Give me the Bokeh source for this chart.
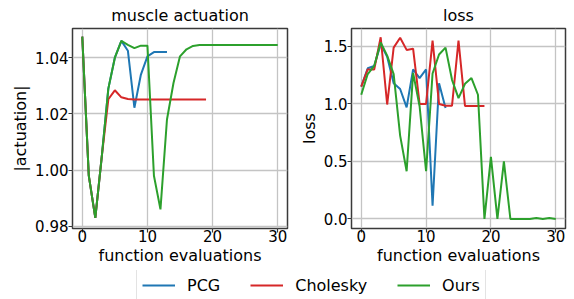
from bokeh.plotting import figure
from bokeh.layouts import column, row
from bokeh.models import FixedTicker, PrintfTickFormatter, Range1d, Legend, LegendItem
from bokeh.embed import file_html
from bokeh.resources import INLINE

# ---- data ----
series_names = ["PCG", "Cholesky", "Ours"]
series_colors = ["#1f77b4", "#d62728", "#2ca02c"]

act_pcg = [1.0475, 0.998, 0.983, 1.005, 1.029, 1.040, 1.046, 1.0425, 1.0222, 1.034,
           1.0405, 1.042, 1.042, 1.042]
act_chol = [1.0475, 0.998, 0.983, 1.005, 1.0252, 1.0284, 1.0259, 1.0253, 1.0251, 1.0251,
            1.0251, 1.0251, 1.0251, 1.0251, 1.0251, 1.0251, 1.0251, 1.0251, 1.0251, 1.0251]
act_ours = [1.0475, 0.998, 0.983, 1.005, 1.029, 1.040, 1.046, 1.0446, 1.0434, 1.0443,
            1.0443, 0.998, 0.986, 1.018, 1.031, 1.0405, 1.043, 1.0442, 1.0445, 1.0445,
            1.0445, 1.0445, 1.0445, 1.0445, 1.0445, 1.0445, 1.0445, 1.0445, 1.0445, 1.0445,
            1.0445]

loss_pcg = [1.15, 1.31, 1.33, 1.52, 1.41, 1.18, 1.13, 0.97, 1.30, 1.225,
            1.30, 0.115, 1.18, 0.965]
loss_chol = [1.15, 1.30, 1.30, 1.58, 0.995, 1.49, 1.575, 1.47, 1.48, 1.00,
             1.00, 1.55, 1.00, 0.985, 0.985, 1.55, 0.983, 0.983, 0.983, 0.983]
loss_ours = [1.08, 1.26, 1.33, 1.534, 1.42, 1.26, 0.725, 0.415, 1.27, 0.98,
             0.415, 1.265, 1.43, 1.49, 1.21, 1.05, 1.175, 1.225, 1.08, 0.0,
             0.54, 0.0, 0.50, 0.0, 0.0, 0.0, 0.0, 0.008, 0.0, 0.008, 0.0]

x_ticks = [0, 10, 20, 30]
act_ticks = [0.98, 1.00, 1.02, 1.04]
loss_ticks = [0.0, 0.5, 1.0, 1.5]

# invisible proxy line for legend glyphs (outside the legend strip's ranges)
proxy_x = [-5, -4]
proxy_y = [-5, -5]

FONT = "DejaVu Sans"
FS = "16px"
TFS = "15px"


def make_fig(width, left, right, title, ylabel, yr, yticks, yfmt):
    p = figure(width=width, height=270, output_backend="svg", toolbar_location=None,
               x_range=Range1d(-1.5, 31.5), y_range=Range1d(*yr),
               min_border_left=left, min_border_right=right,
               min_border_top=28, min_border_bottom=42)
    p.title.text = title
    p.title.align = "center"
    p.title.text_font = FONT
    p.title.text_font_size = FS
    p.title.text_font_style = "normal"
    p.title.text_color = "black"
    p.title.standoff = 7
    p.title.offset = 0
    p.outline_line_color = "#3a3a3a"
    p.outline_line_width = 1.5
    for ax in (p.xaxis[0], p.yaxis[0]):
        ax.axis_line_color = None
        ax.major_tick_in = 0
        ax.major_tick_out = 4
        ax.major_tick_line_color = "#3a3a3a"
        ax.major_tick_line_width = 1.2
        ax.minor_tick_line_color = None
        ax.major_label_text_font = FONT
        ax.major_label_text_font_size = TFS
        ax.major_label_text_color = "black"
        ax.axis_label_text_font = FONT
        ax.axis_label_text_font_size = FS
        ax.axis_label_text_font_style = "normal"
        ax.axis_label_text_color = "black"
    p.xaxis.major_label_standoff = -3
    p.xaxis.axis_label_standoff = 1
    p.yaxis.major_label_standoff = 0
    p.yaxis.axis_label_standoff = 2
    p.xaxis.ticker = FixedTicker(ticks=x_ticks)
    p.xaxis.formatter = PrintfTickFormatter(format="%d")
    p.xaxis.axis_label = "function evaluations"
    p.yaxis.ticker = FixedTicker(ticks=yticks)
    p.yaxis.formatter = PrintfTickFormatter(format=yfmt)
    p.yaxis.axis_label = ylabel
    p.grid.grid_line_color = "#c4c4c4"
    p.grid.grid_line_width = 1.3
    return p


p1 = make_fig(290, 72, 3, "muscle actuation", "|actuation|", (0.9792, 1.0504), act_ticks, "%.2f")
p2 = make_fig(284, 61, 9, "loss", "loss", (-0.083, 1.656), loss_ticks, "%.1f")

for p, data in ((p1, [act_pcg, act_chol, act_ours]), (p2, [loss_pcg, loss_chol, loss_ours])):
    for vals, col in zip(data, series_colors):
        p.line(x=list(range(len(vals))), y=vals, line_color=col, line_width=2)

# legend strip
p3 = figure(width=574, height=29, output_backend="svg", toolbar_location=None,
            x_range=Range1d(0, 1), y_range=Range1d(0, 1),
            min_border_left=0, min_border_right=0, min_border_top=0, min_border_bottom=0)
p3.axis.visible = False
p3.grid.visible = False
p3.outline_line_color = None
items = []
for name, col in zip(series_names, series_colors):
    r = p3.line(x=proxy_x, y=proxy_y, line_color=col, line_width=2)
    items.append(LegendItem(label=name, renderers=[r]))
leg = Legend(items=items, orientation="horizontal", location=(136, -2),
             spacing=30, glyph_width=33, glyph_height=20, label_height=20,
             label_standoff=12, padding=5, margin=0,
             label_text_font=FONT, label_text_font_size=FS, label_text_color="black",
             border_line_color="#c8c8c8", border_line_width=1.2,
             background_fill_color="white")
p3.add_layout(leg, "center")

layout = column(row(p1, p2), p3)
open("out.html", "w").write(file_html(layout, INLINE))
